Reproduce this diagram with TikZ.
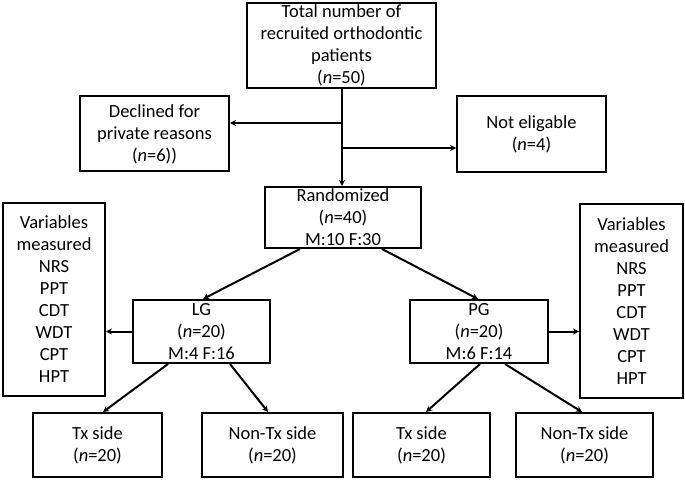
\documentclass[tikz,border=0pt]{standalone}
\usepackage{fontspec}
\setmainfont{Carlito}
\usetikzlibrary{arrows.meta,calc}
\begin{document}
\begin{tikzpicture}[x=1pt,y=-1pt,
  box/.style={draw, line width=2pt, align=center, inner sep=0pt,
    font=\fontsize{18.5}{22}\selectfont},
  arr/.style={line width=2pt, -{Stealth[length=6pt,width=6pt]}}]
\useasboundingbox (0,0) rectangle (685,481);
\node[box, minimum width=189pt, minimum height=85pt] (top) at (341.5,45.5)
  {Total number of\\recruited orthodontic\\patients\\(\textit{n}=50)};
\node[box, minimum width=149pt, minimum height=75pt] (decl) at (154.5,134)
  {Declined for\\private reasons\\(\textit{n}=6))};
\node[box, minimum width=149pt, minimum height=76pt] (noteli) at (531.5,134)
  {Not eligable\\(\textit{n}=4)};
\node[box, minimum width=156pt, minimum height=61pt] (rand) at (343,217.5)
  {Randomized\\(\textit{n}=40)\\M:10 F:30};
\node[box, minimum width=102pt, minimum height=193pt] (varL) at (54,299.5)
  {Variables\\measured\\NRS\\PPT\\CDT\\WDT\\CPT\\HPT};
\node[box, minimum width=103pt, minimum height=194pt] (varR) at (631.5,301)
  {Variables\\measured\\NRS\\PPT\\CDT\\WDT\\CPT\\HPT};
\node[box, minimum width=137pt, minimum height=63pt] (LG) at (201.5,331.5)
  {LG\\(\textit{n}=20)\\M:4 F:16};
\node[box, minimum width=138pt, minimum height=63pt] (PG) at (479,331.5)
  {PG\\(\textit{n}=20)\\M:6 F:14};
\node[box, minimum width=129pt, minimum height=64pt] (txL) at (97.5,445)
  {Tx side\\(\textit{n}=20)};
\node[box, minimum width=141pt, minimum height=64pt] (nonL) at (272.5,445)
  {Non-Tx side\\(\textit{n}=20)};
\node[box, minimum width=137pt, minimum height=64pt] (txR) at (421.5,445)
  {Tx side\\(\textit{n}=20)};
\node[box, minimum width=137pt, minimum height=64pt] (nonR) at (584.5,445)
  {Non-Tx side\\(\textit{n}=20)};
% trunk
\coordinate (j1) at (342,123);
\coordinate (j2) at (342,148);
\draw[arr] (top.south -| j1) -- (rand.north -| j1);
\draw[arr] (j1) -- (j1 -| decl.east);
\draw[arr] (j2) -- (j2 -| noteli.west);
% randomized to groups
\draw[arr] ($(rand.south)+(-43,0)$) -- ($(LG.north)+(1.5,0)$);
\draw[arr] ($(rand.south)+(39,0)$) -- ($(PG.north)+(-1,0)$);
% groups to variables
\draw[arr] (LG.west) -- (LG.west -| varL.east);
\draw[arr] (PG.east) -- (PG.east -| varR.west);
% groups to sides
\draw[arr] ($(LG.south)+(-33.5,0)$) -- ($(txL.north)+(5.5,0)$);
\draw[arr] ($(LG.south)+(28.5,0)$) -- ($(nonL.north)+(-4.5,0)$);
\draw[arr] ($(PG.south)+(1,0)$) -- ($(txR.north)+(4.5,0)$);
\draw[arr] ($(PG.south)+(26,0)$) -- ($(nonR.north)+(-2.5,0)$);
\end{tikzpicture}
\end{document}
